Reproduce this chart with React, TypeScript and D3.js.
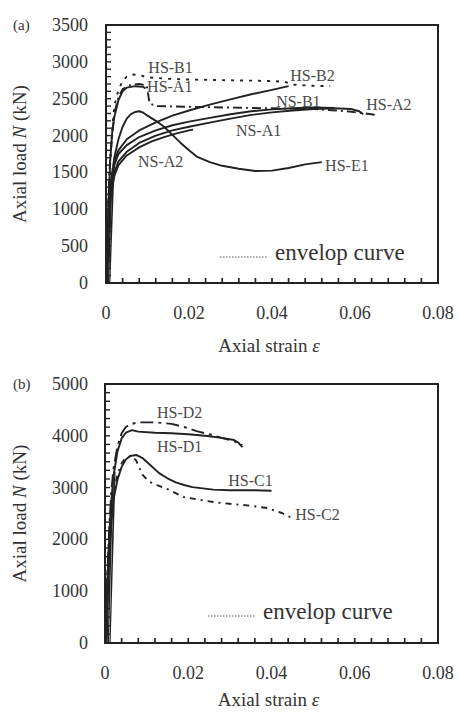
import React from "react";
import * as d3 from "d3";

type P = [number, number];

// ---------- Panel (a) data: [axial strain, axial load kN] ----------
const hsB1: P[] = [[0,0],[0.0005,900],[0.001,1600],[0.0015,2100],[0.002,2400],[0.003,2620],[0.004,2740],[0.005,2800],[0.006,2830],[0.008,2820],[0.01,2790],[0.015,2770],[0.02,2760],[0.03,2750],[0.04,2740],[0.043,2730],[0.045,2690],[0.05,2675],[0.054,2670]];
const hsA1: P[] = [[0,0],[0.0005,950],[0.001,1650],[0.0015,2050],[0.002,2250],[0.003,2480],[0.004,2600],[0.005,2650],[0.007,2670],[0.009,2660],[0.0095,2640]];
const hsA2: P[] = [[0,0],[0.0005,1000],[0.001,1700],[0.002,2300],[0.003,2520],[0.004,2630],[0.006,2690],[0.008,2700],[0.0098,2680],[0.0105,2440],[0.012,2400],[0.02,2390],[0.03,2380],[0.04,2370],[0.05,2360],[0.058,2330],[0.0625,2300],[0.065,2280]];
const hsE1: P[] = [[0,0],[0.0005,700],[0.001,1200],[0.002,1700],[0.003,1950],[0.004,2120],[0.005,2230],[0.006,2290],[0.007,2320],[0.008,2330],[0.009,2310],[0.01,2270],[0.012,2200],[0.014,2120],[0.016,2010],[0.018,1900],[0.02,1800],[0.022,1710],[0.025,1640],[0.028,1590],[0.032,1550],[0.036,1520],[0.04,1525],[0.044,1560],[0.048,1610],[0.052,1640]];
const hsB2: P[] = [[0,0],[0.0005,800],[0.001,1300],[0.002,1650],[0.003,1800],[0.005,1950],[0.008,2070],[0.012,2180],[0.016,2270],[0.02,2340],[0.025,2420],[0.03,2490],[0.035,2560],[0.04,2620],[0.044,2670]];
const nsA1: P[] = [[0,0],[0.0005,700],[0.001,1150],[0.002,1500],[0.003,1650],[0.005,1780],[0.008,1900],[0.012,2000],[0.016,2070],[0.02,2120],[0.025,2175],[0.03,2230],[0.035,2280],[0.04,2315],[0.045,2340],[0.05,2360],[0.055,2370],[0.059,2360],[0.061,2330],[0.062,2290]];
const nsB1: P[] = [[0,0],[0.0005,750],[0.001,1250],[0.002,1600],[0.003,1750],[0.005,1870],[0.008,1980],[0.012,2070],[0.016,2140],[0.02,2190],[0.025,2240],[0.03,2290],[0.035,2330],[0.04,2355],[0.045,2370],[0.05,2380],[0.055,2375]];
const nsA2: P[] = [[0,0],[0.0005,650],[0.001,1100],[0.002,1450],[0.003,1600],[0.005,1730],[0.008,1840],[0.011,1920],[0.014,1980],[0.017,2030],[0.02,2070],[0.021,2080]];
// unloading / reloading loops near the origin (panel a)
const loopsA: P[][] = [
  [[0.0003,400],[0.0001,0],[0.0004,450]],
  [[0.0006,800],[0.0002,0],[0.0007,850]],
  [[0.0009,1200],[0.0004,0],[0.001,1250]],
  [[0.0013,1500],[0.0006,0],[0.0015,1560]],
  [[0.0018,1650],[0.0009,0],[0.002,1700]],
];

// ---------- Panel (b) data ----------
const hsD2: P[] = [[0,0],[0.0005,1200],[0.001,2200],[0.0015,2900],[0.002,3350],[0.003,3800],[0.004,4050],[0.005,4170],[0.0065,4230],[0.008,4260],[0.012,4260],[0.016,4230],[0.019,4170],[0.022,4090],[0.025,4030],[0.028,3960],[0.031,3900],[0.033,3820]];
const hsD1: P[] = [[0,0],[0.0005,1100],[0.001,2000],[0.0015,2700],[0.002,3200],[0.003,3700],[0.004,3950],[0.005,4060],[0.0065,4110],[0.008,4080],[0.012,4060],[0.016,4050],[0.02,4030],[0.024,4000],[0.028,3960],[0.031,3920],[0.032,3870],[0.033,3780]];
const hsC1: P[] = [[0,0],[0.0005,900],[0.001,1700],[0.0015,2300],[0.002,2750],[0.003,3150],[0.004,3400],[0.005,3540],[0.006,3610],[0.0075,3630],[0.009,3570],[0.0108,3440],[0.013,3280],[0.015,3180],[0.017,3100],[0.019,3050],[0.021,3010],[0.023,2990],[0.026,2960],[0.03,2950],[0.035,2950],[0.04,2940]];
const hsC2: P[] = [[0,0],[0.0005,950],[0.001,1750],[0.0015,2400],[0.002,2850],[0.003,3250],[0.004,3470],[0.005,3580],[0.0065,3610],[0.0075,3520],[0.009,3250],[0.0105,3120],[0.0125,3050],[0.0156,2950],[0.0188,2820],[0.023,2760],[0.027,2710],[0.031,2680],[0.035,2650],[0.039,2605],[0.0425,2510],[0.045,2410]];
// unloading / reloading loops near the origin (panel b)
const loopsB: P[][] = [
  [[0.0004,1000],[0.0001,0],[0.0005,1050]],
  [[0.0008,1800],[0.0003,0],[0.0009,1900]],
  [[0.0012,2400],[0.0005,0],[0.0013,2500]],
  [[0.0016,2900],[0.0008,0],[0.0018,3000]],
  [[0.0022,3200],[0.0012,0],[0.0024,3300]],
];

// ---------- Tick labels ----------
const xTicks = [0, 0.02, 0.04, 0.06, 0.08];
const xTickLabels = ["0", "0.02", "0.04", "0.06", "0.08"];
const yTicksA = [0, 500, 1000, 1500, 2000, 2500, 3000, 3500];
const yTicksB = [0, 1000, 2000, 3000, 4000, 5000];

type Curve = { name: string; data: P[]; dash: string; label: [number, number] };

const curvesA: Curve[] = [
  { name: "HS-B1", data: hsB1, dash: "3,6", label: [0.0102, 2850] },
  { name: "HS-A1", data: hsA1, dash: "", label: [0.0099, 2590] },
  { name: "HS-A2", data: hsA2, dash: "9,4,2,4", label: [0.0627, 2350] },
  { name: "HS-E1", data: hsE1, dash: "", label: [0.0528, 1520] },
  { name: "HS-B2", data: hsB2, dash: "", label: [0.0444, 2740] },
  { name: "NS-B1", data: nsB1, dash: "", label: [0.0410, 2390] },
  { name: "NS-A1", data: nsA1, dash: "", label: [0.0313, 1990] },
  { name: "NS-A2", data: nsA2, dash: "", label: [0.0077, 1570] },
];
const curvesB: Curve[] = [
  { name: "HS-D2", data: hsD2, dash: "13,5,3,5", label: [0.0125, 4340] },
  { name: "HS-D1", data: hsD1, dash: "", label: [0.0125, 3690] },
  { name: "HS-C1", data: hsC1, dash: "", label: [0.0296, 3030] },
  { name: "HS-C2", data: hsC2, dash: "6,5,2,5", label: [0.0457, 2380] },
];

const FONT = "'Liberation Serif', 'Times New Roman', serif";
const INK = "#222";
const TXT = "#333";

function Panel(props: {
  tag: string; x0: number; x1: number; yTop: number; yBot: number;
  yMax: number; yTicks: number[]; yMinorStep: number; curves: Curve[]; loops: P[][];
  legendY: number; legendX: number; titleDy: number;
}) {
  const { tag, x0, x1, yTop, yBot, yMax, yTicks, yMinorStep, curves, loops, legendY, legendX, titleDy } = props;
  const x = d3.scaleLinear().domain([0, 0.08]).range([x0, x1]);
  const y = d3.scaleLinear().domain([0, yMax]).range([yBot, yTop]);
  const line = d3.line<P>().x((d) => x(d[0])).y((d) => y(d[1]));
  const xMinor = d3.range(0.004, 0.0799, 0.004);
  const yMinor = d3.range(yMinorStep, yMax - 1, yMinorStep);
  const midY = (yTop + yBot) / 2;
  const midX = (x0 + x1) / 2;
  return (
    <g>
      <text x={13} y={yTop + 5} fontSize={15} fill={TXT} fontFamily={FONT}>{tag}</text>
      {/* minor ticks */}
      {xMinor.map((v, i) => (
        <line key={"xm" + i} x1={x(v)} x2={x(v)} y1={yBot} y2={yBot - 5} stroke={INK} strokeWidth={1.7} />
      ))}
      {yMinor.map((v, i) => (
        <line key={"ym" + i} x1={x0} x2={x0 + 5} y1={y(v)} y2={y(v)} stroke={INK} strokeWidth={1.4} />
      ))}
      {/* y tick labels */}
      {yTicks.map((v) => (
        <text key={"yt" + v} x={88} y={y(v) + 6} textAnchor="end" fontSize={18} fill={TXT} fontFamily={FONT}>{v}</text>
      ))}
      {xTicks.map((v, i) => (
        <text key={"xt" + v} x={x(v)} y={yBot + 36} textAnchor="middle" fontSize={18} fill={TXT} fontFamily={FONT}>{xTickLabels[i]}</text>
      ))}
      {/* axis titles */}
      <text transform={`translate(26,${midY}) rotate(-90)`} textAnchor="middle" fontSize={19} fill={TXT} fontFamily={FONT}>
        Axial load <tspan fontStyle="italic">N</tspan> (kN)
      </text>
      <text x={midX - 3} y={yBot + titleDy} textAnchor="middle" fontSize={19} fill={TXT} fontFamily={FONT}>
        Axial strain <tspan fontStyle="italic">ε</tspan>
      </text>
      {/* hysteresis loops */}
      {loops.map((l, i) => (
        <path key={"lp" + i} d={line(l) || ""} fill="none" stroke={INK} strokeWidth={1.2} />
      ))}
      {/* curves */}
      {curves.map((c) => (
        <path key={c.name} d={line(c.data) || ""} fill="none" stroke={INK} strokeWidth={1.9}
          strokeDasharray={c.dash || undefined} strokeLinejoin="round" />
      ))}
      {curves.map((c) => (
        <text key={"l" + c.name} x={x(c.label[0])} y={y(c.label[1])} fontSize={16} fill="#4a4a4a" fontFamily={FONT}>{c.name}</text>
      ))}
      {/* legend */}
      <line x1={legendX} x2={legendX + 48} y1={legendY + 4} y2={legendY + 4} stroke="#555" strokeWidth={1} strokeDasharray="1.5,1.5" />
      <text x={legendX + 55} y={legendY + 7} fontSize={23} fill={TXT} fontFamily={FONT}>envelop curve</text>
      {/* frame */}
      <rect x={x0} y={yTop} width={x1 - x0} height={yBot - yTop} fill="none" stroke={INK} strokeWidth={2} />
    </g>
  );
}

export default function App() {
  return (
    <svg width={459} height={713} style={{ position: "absolute", left: 0, top: 0, background: "#fff" }}>
      <rect width={459} height={713} fill="#fff" />
      <Panel tag="(a)" x0={106} x1={438} yTop={25} yBot={283} yMax={3500} yTicks={yTicksA} yMinorStep={100}
        curves={curvesA} loops={loopsA} legendX={220} legendY={253} titleDy={69} />
      <Panel tag="(b)" x0={105} x1={438} yTop={384} yBot={643} yMax={5000} yTicks={yTicksB} yMinorStep={1000 / 6}
        curves={curvesB} loops={loopsB} legendX={208} legendY={612} titleDy={63} />
    </svg>
  );
}
